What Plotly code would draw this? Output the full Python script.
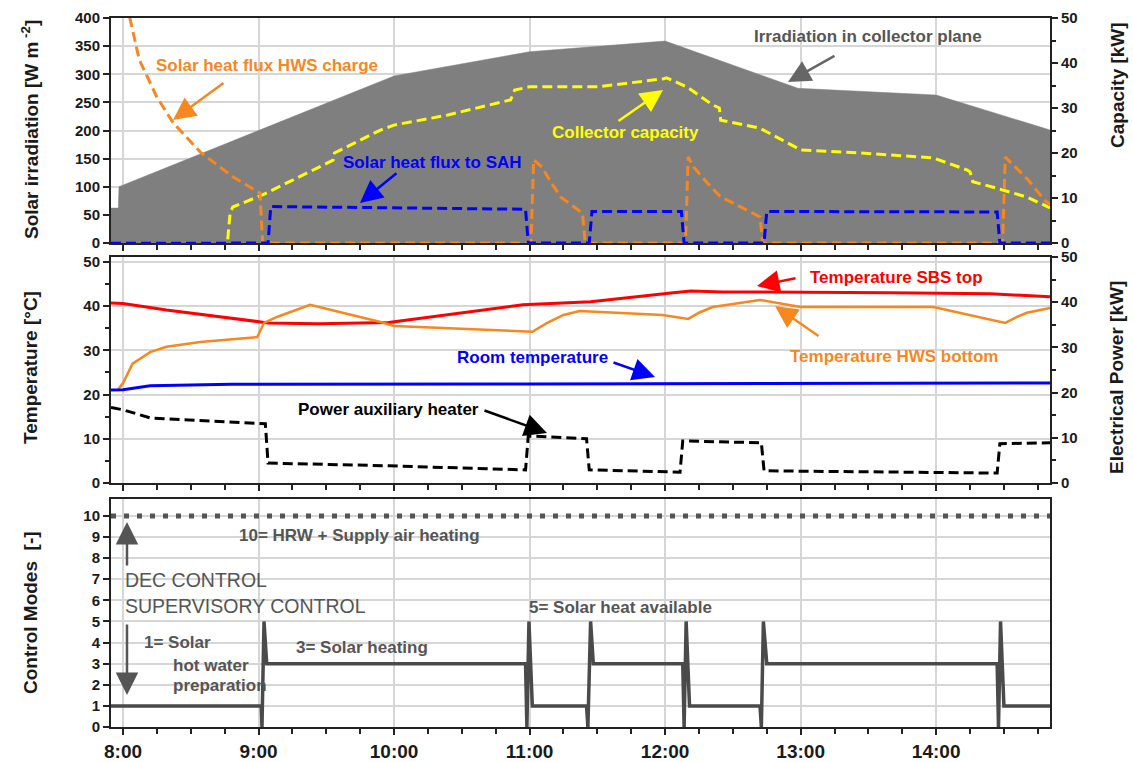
import plotly.graph_objects as go

# ---------------- data (time in decimal hours) ----------------
# Irradiation in collector plane [W m-2]
irr_t = [7.911, 7.965, 7.97, 10.0, 11.0, 12.0, 12.98, 14.0, 14.84]
irr_v = [62, 62, 100, 297, 340, 359, 275, 263, 201]

# Solar heat flux HWS charge [kW]
hws_t = [7.97, 8.05, 8.12, 8.25, 8.37, 8.57, 8.81, 9.01, 9.03, 11.01, 11.03, 11.09, 11.16,
         11.23, 11.33, 11.39, 11.41, 12.15, 12.17, 12.21, 12.31, 12.41, 12.50, 12.60, 12.70,
         12.72, 14.49, 14.51, 14.68, 14.80, 14.84]
hws_v = [70, 50, 40.7, 32.4, 26.7, 20.2, 14.7, 11.1, 0, 0, 18.5, 16.9, 13.4,
         10.2, 8.0, 6.6, 0, 0, 19.1, 16.9, 13.4, 10.2, 8.9, 7.4, 5.8,
         0, 0, 19.1, 14.0, 9.5, 8.5]

# Solar heat flux to SAH [kW]
sah_t = [7.911, 9.07, 9.09, 10.0, 10.97, 10.99, 11.44, 11.46, 12.12, 12.14, 12.73, 12.75, 14.45, 14.47, 14.84]
sah_v = [0, 0, 8.1, 7.8, 7.5, 0, 0, 7.0, 7.0, 0, 0, 7.0, 6.9, 0, 0]

# Collector capacity [kW]
cap_t = [7.911, 8.77, 8.79, 8.81, 9.03, 9.55, 9.56, 9.90, 10.0, 10.39, 10.86, 10.89, 11.0,
         11.50, 11.99, 12.01, 12.16, 12.35, 12.40, 12.41, 12.70, 13.0, 13.44, 13.93,
         13.98, 14.23, 14.25, 14.27, 14.42, 14.67, 14.82, 14.84]
cap_v = [0, 0, 6.7, 8.0, 10.7, 18.4, 20.0, 25.1, 26.2, 28.4, 31.8, 34.0, 34.7,
         34.7, 36.5, 36.7, 34.7, 30.7, 30.0, 27.3, 25.5, 20.7, 20.0, 19.1,
         18.9, 16.2, 15.8, 13.6, 12.4, 10.2, 8.0, 7.8]

# Temperature SBS top [°C]
sbs_t = [7.911, 8.0, 8.32, 8.99, 9.07, 9.44, 9.96, 10.95, 11.45, 12.06, 12.19, 12.43, 12.7, 13.66, 14.4, 14.84]
sbs_v = [40.7, 40.6, 39.1, 36.4, 36.2, 36.0, 36.3, 40.3, 41.0, 43.0, 43.4, 43.2, 43.2, 43.0, 42.8, 42.1]

# Temperature HWS bottom [°C]
hwsb_t = [7.96, 8.0, 8.07, 8.2, 8.32, 8.57, 8.99, 9.04, 9.14, 9.38, 9.9, 10.0, 11.02, 11.13,
          11.25, 11.37, 11.98, 12.17, 12.25, 12.35, 12.7, 13.0, 13.98, 14.51, 14.6, 14.67, 14.84]
hwsb_v = [21.0, 22.6, 27.0, 29.6, 30.8, 31.9, 33.0, 36.2, 37.6, 40.3, 36.4, 35.5, 34.2, 36.2,
          38.0, 38.9, 38.0, 37.1, 38.5, 39.8, 41.4, 39.8, 39.8, 36.2, 37.6, 38.5, 39.6]

# Room temperature [°C]
room_t = [7.911, 8.0, 8.2, 8.8, 11.0, 13.0, 14.84]
room_v = [21.0, 21.1, 22.0, 22.3, 22.4, 22.5, 22.6]

# Power auxiliary heater [kW]
aux_t = [7.911, 8.0, 8.2, 8.57, 9.05, 9.07, 9.96, 10.97, 10.99, 11.42, 11.44, 12.11, 12.13,
         12.71, 12.73, 14.45, 14.47, 14.84]
aux_v = [16.7, 16.2, 14.4, 13.8, 13.1, 4.4, 3.8, 2.9, 10.4, 9.8, 2.9, 2.4, 9.3,
         8.9, 2.7, 2.2, 8.7, 8.9]

# Control modes [-]
mode_t = [7.911, 9.02, 9.025, 9.04, 9.06, 10.97, 10.98, 10.995, 11.02, 11.42, 11.43, 11.45, 11.47,
          12.13, 12.14, 12.155, 12.18, 12.70, 12.71, 12.725, 12.75, 14.45, 14.46, 14.475, 14.50, 14.84]
mode_v = [1, 1, 0, 5, 3, 3, 0, 5, 1, 1, 0, 5, 3,
          3, 0, 5, 1, 1, 0, 5, 3, 3, 0, 5, 1, 1]
dec_t = [7.911, 14.84]
dec_v = [10, 10]

# ---------------- styling ----------------
FONT = "Liberation Sans, Arial, sans-serif"
ORANGE = "#f7871f"
GRAY_FILL = "#7f7f7f"
GRID = "#d6d6d6"
X_RANGE = [7.911, 14.84]

# figure geometry (pixels) used to place paper-referenced text
L, R, T, B = 111, 1050, 18, 727
def px(x):
    return (x - L) / (R - L)
def py(y):
    return (B - y) / (B - T)

fig = go.Figure()

dash = "10px,5px"
# top panel
fig.add_trace(go.Scatter(x=irr_t, y=irr_v, mode="lines", fill="tozeroy", fillcolor=GRAY_FILL,
                         line=dict(color=GRAY_FILL, width=0.5), xaxis="x", yaxis="y"))
fig.add_trace(go.Scatter(x=cap_t, y=cap_v, mode="lines", line=dict(color="#ffff00", width=3, dash=dash),
                         xaxis="x", yaxis="y2"))
fig.add_trace(go.Scatter(x=hws_t, y=hws_v, mode="lines", line=dict(color=ORANGE, width=3, dash=dash),
                         xaxis="x", yaxis="y2"))
fig.add_trace(go.Scatter(x=sah_t, y=sah_v, mode="lines", line=dict(color="#0000ff", width=3, dash=dash),
                         xaxis="x", yaxis="y2"))
# middle panel
fig.add_trace(go.Scatter(x=sbs_t, y=sbs_v, mode="lines", line=dict(color="#ff0000", width=3),
                         xaxis="x2", yaxis="y3"))
fig.add_trace(go.Scatter(x=hwsb_t, y=hwsb_v, mode="lines", line=dict(color=ORANGE, width=2.5),
                         xaxis="x2", yaxis="y3"))
fig.add_trace(go.Scatter(x=room_t, y=room_v, mode="lines", line=dict(color="#0000ff", width=3),
                         xaxis="x2", yaxis="y3"))
fig.add_trace(go.Scatter(x=aux_t, y=aux_v, mode="lines", line=dict(color="#000000", width=3, dash=dash),
                         xaxis="x2", yaxis="y4"))
# bottom panel
fig.add_trace(go.Scatter(x=dec_t, y=dec_v, mode="lines", line=dict(color="#555555", width=5, dash="5px,8px"),
                         xaxis="x3", yaxis="y5"))
fig.add_trace(go.Scatter(x=mode_t, y=mode_v, mode="lines", line=dict(color="#4a4a4a", width=3.5),
                         xaxis="x3", yaxis="y5"))

tickfont = dict(family=FONT, size=15, color="#1a1a1a", weight="bold")

def xaxis(anchor, labels):
    return dict(range=X_RANGE, anchor=anchor, tickmode="linear", tick0=8, dtick=1, ticksuffix=":00",
                showticklabels=labels, ticks="outside", ticklen=6, tickwidth=2, tickcolor="#222",
                automargin=False,
                minor=dict(dtick=0.25, tick0=8, ticks="outside", ticklen=5, tickwidth=1.5, tickcolor="#222",
                           showgrid=False),
                showgrid=True, gridcolor=GRID, gridwidth=1.5, showline=True, linecolor="#222",
                linewidth=2, mirror=True, zeroline=False,
                tickfont=dict(family=FONT, size=19, color="#1a1a1a", weight="bold"))

def yleft(domain, rng, dtick, anchor, minor=None):
    d = dict(domain=domain, range=rng, dtick=dtick, tick0=0, anchor=anchor, ticks="outside", ticklen=6,
             tickwidth=2, tickcolor="#222", showgrid=True, gridcolor=GRID, gridwidth=1.5,
             showline=True, linecolor="#222", linewidth=2, mirror=True, zeroline=False,
             tickfont=tickfont, automargin=False)
    if minor:
        d["minor"] = dict(dtick=minor, ticks="outside", ticklen=4, tickwidth=1.5, tickcolor="#222",
                          showgrid=False)
    return d

def yright(over, anchor, rng, **kw):
    d = dict(overlaying=over, anchor=anchor, side="right", range=rng, ticks="outside", ticklen=6,
             tickwidth=2, tickcolor="#222", showgrid=False, showline=True, linecolor="#222",
             linewidth=2, zeroline=False, tickfont=tickfont, automargin=False)
    d.update(kw)
    return d

D_TOP = [py(243), 1.0]
D_MID = [py(483), py(257)]
D_BOT = [0.0, py(499)]

fig.update_layout(
    width=1133, height=762,
    margin=dict(l=L, r=1133 - R, t=T, b=762 - B),
    paper_bgcolor="white", plot_bgcolor="white", showlegend=False,
    font=dict(family=FONT),
    xaxis=xaxis("y", False),
    xaxis2=xaxis("y3", False),
    xaxis3=xaxis("y5", True),
    yaxis=yleft(D_TOP, [0, 400], 50, "x"),
    yaxis2=yright("y", "x", [0, 50], dtick=10, tick0=0,
                  minor=dict(dtick=5, ticks="outside", ticklen=4, tickwidth=1.5, tickcolor="#222")),
    yaxis3=yleft(D_MID, [0, 51.1], 10, "x2", minor=5),
    yaxis4=yright("y3", "x2", [0, 50], dtick=10, tick0=0,
                  minor=dict(dtick=5, ticks="outside", ticklen=4, tickwidth=1.5, tickcolor="#222")),
    yaxis5=yleft(D_BOT, [0, 10.8], 1, "x3"),
    yaxis6=yright("y5", "x3", [0, 3.33], tickmode="array", tickvals=[0, 0.5, 1, 1.5, 2],
                  ticktext=["0", "0.5", "1", "1.5", "2"]),
)

ann = []
def label(text, x, y, color, size=17, weight="bold", xanchor="center"):
    ann.append(dict(text=text, x=px(x), y=py(y), xref="paper", yref="paper", showarrow=False,
                    xanchor=xanchor, yanchor="middle",
                    font=dict(family=FONT, size=size, color=color, weight=weight)))

def arrow(tail, head, color, width=2.5):
    ann.append(dict(text="", x=px(head[0]), y=py(head[1]), xref="paper", yref="paper",
                    ax=tail[0] - head[0], ay=tail[1] - head[1], axref="pixel", ayref="pixel",
                    showarrow=True, arrowhead=2, arrowsize=1.8, arrowwidth=width, arrowcolor=color,
                    standoff=0, startstandoff=0))

def vtitle(text, x, y, size=19):
    ann.append(dict(text=text, x=px(x), y=py(y), xref="paper", yref="paper", showarrow=False,
                    textangle=-90, xanchor="center", yanchor="middle",
                    font=dict(family=FONT, size=size, color="#1a1a1a", weight="bold")))

# top panel labels
label("Solar heat flux HWS charge", 267, 65, ORANGE)
arrow((225, 82), (173, 120), ORANGE)
label("Irradiation in collector plane", 868, 37, "#555555")
arrow((836, 55), (788, 82), "#666666")
label("Collector capacity", 625, 132, "#ffff00")
arrow((617, 122), (663, 90), "#ffff00")
label("Solar heat flux to SAH", 432, 162, "#0000ff")
arrow((398, 172), (360, 203), "#0000ff")

# middle panel labels
label("Temperature SBS top", 896, 277, "#ff0000")
arrow((797, 278), (757, 286), "#ff0000")
label("Temperature HWS bottom", 894, 356, ORANGE)
arrow((820, 337), (775, 306), ORANGE)
label("Room temperature", 532, 357, "#0000ff")
arrow((612, 362), (655, 377), "#0000ff")
label("Power auxiliary heater", 388, 409, "#000000")
arrow((483, 410), (547, 433), "#000000")

# bottom panel labels
label("10= HRW + Supply air heating", 359, 535, "#555555")
label("DEC CONTROL", 123, 580, "#555555", size=19.5, weight="normal", xanchor="left")
label("SUPERVISORY CONTROL", 123, 606, "#555555", size=19.5, weight="normal", xanchor="left")
arrow((127, 567), (127, 522), "#555555")
arrow((127, 623), (127, 695), "#555555")
label("1= Solar", 142, 642, "#555555", xanchor="left")
label("hot water", 171, 665, "#555555", xanchor="left")
label("preparation", 171, 685, "#555555", xanchor="left")
label("3= Solar heating", 294, 647, "#555555", xanchor="left")
label("5= Solar heat available", 527, 607, "#555555", xanchor="left")

# axis titles
vtitle("Solar irradiation [W m<sup> -2</sup>]", 30, 130)
vtitle("Temperature [°C]", 30, 368)
vtitle("Control Modes  [-]", 30, 613)
vtitle("Capacity [kW]", 1118, 85)
vtitle("Electrical Power [kW]", 1116, 378)

fig.update_layout(annotations=ann)
fig.write_html("out.html")
